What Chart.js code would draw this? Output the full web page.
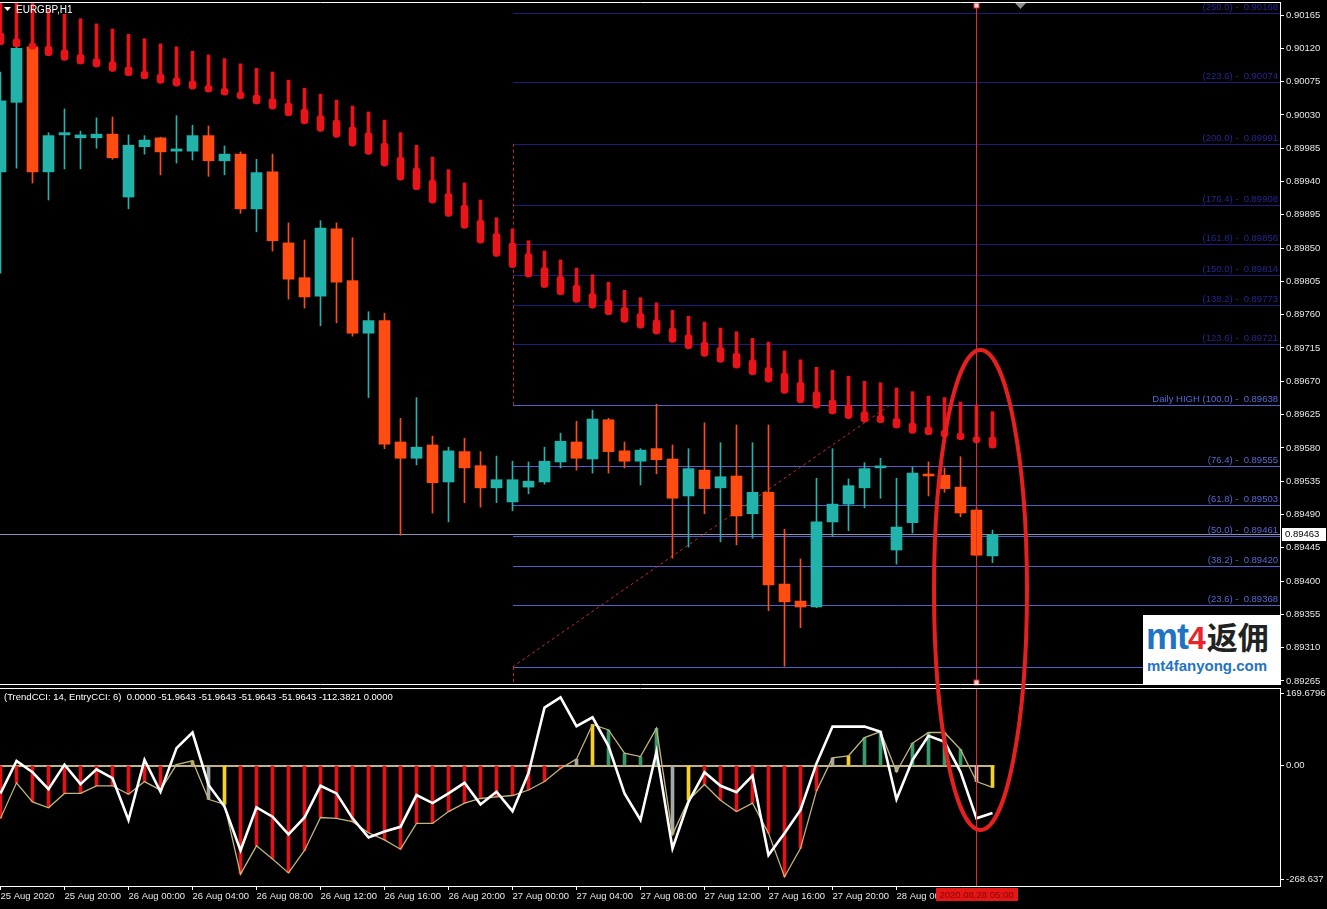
<!DOCTYPE html>
<html><head><meta charset="utf-8">
<script src="https://cdn.jsdelivr.net/npm/chart.js@4.4.0/dist/chart.umd.min.js"></script>
<style>
html,body{margin:0;padding:0;background:#000;overflow:hidden;}
#wrap{position:relative;width:1327px;height:909px;background:#000;}
#c1{position:absolute;left:0;top:0;}
#c2{position:absolute;left:0;top:686px;}
#ov{position:absolute;left:0;top:0;pointer-events:none;}
#wm{position:absolute;left:1143px;top:615px;width:137px;height:70px;background:#fff;overflow:hidden;}
#wm .l1{position:absolute;left:3px;top:-2px;white-space:nowrap;line-height:40px;}
#wm .mt{font:bold 36px 'Liberation Sans',sans-serif;color:#1f74c6;letter-spacing:-1px;}
#wm .four{font:bold 32px 'Liberation Sans',sans-serif;color:#e8262a;}
#wm .cn{font:bold 31px 'Noto Sans CJK SC',sans-serif;color:#222;margin-left:1px;}
#wm .l2{position:absolute;left:4px;top:42px;font:bold 15px 'Liberation Sans',sans-serif;color:#1f74c6;white-space:nowrap;}
</style></head>
<body>
<div id="wrap">
<canvas id="c1" width="1327" height="687"></canvas>
<canvas id="c2" width="1327" height="223"></canvas>
<div id="wm"><div class="l1"><span class="mt">mt</span><span class="four">4</span><span class="cn">返佣</span></div><div class="l2">mt4fanyong.com</div></div>
<canvas id="ov" width="1327" height="909"></canvas>
</div>
<script>
// ---------- DATA ----------
const symbolTitle = 'EURGBP,H1';
const opens  = [0.89953,0.90047,0.90122,0.89953,0.90003,0.89999,0.89999,0.90004,0.89919,0.89987,0.89999,0.89981,0.89981,0.90002,0.89968,0.89977,0.89903,0.89953,0.89857,0.89810,0.89785,0.89876,0.89806,0.89735,0.89752,0.89588,0.89566,0.89584,0.89534,0.89575,0.89556,0.89526,0.89507,0.89527,0.89534,0.89561,0.89588,0.89565,0.89618,0.89576,0.89562,0.89579,0.89565,0.89515,0.89550,0.89526,0.89542,0.89491,0.89520,0.89396,0.89373,0.89365,0.89480,0.89504,0.89526,0.89553,0.89442,0.89479,0.89543,0.89543,0.89527,0.89496,0.89434];
const highs  = [0.90088,0.90124,0.90124,0.90006,0.90038,0.90008,0.90026,0.90027,0.90003,0.90002,0.90000,0.90029,0.90016,0.90015,0.89988,0.89980,0.89970,0.89977,0.89884,0.89861,0.89887,0.89884,0.89864,0.89764,0.89762,0.89620,0.89648,0.89596,0.89581,0.89593,0.89575,0.89569,0.89562,0.89561,0.89581,0.89600,0.89616,0.89631,0.89620,0.89588,0.89579,0.89639,0.89584,0.89579,0.89614,0.89587,0.89611,0.89587,0.89611,0.89470,0.89430,0.89539,0.89579,0.89538,0.89560,0.89566,0.89539,0.89554,0.89561,0.89553,0.89568,0.89499,0.89469];
const lows   = [0.89816,0.89958,0.89938,0.89915,0.89957,0.89957,0.89985,0.89970,0.89903,0.89977,0.89949,0.89965,0.89969,0.89947,0.89949,0.89897,0.89872,0.89846,0.89781,0.89769,0.89745,0.89749,0.89731,0.89648,0.89579,0.89462,0.89557,0.89492,0.89480,0.89506,0.89500,0.89506,0.89495,0.89518,0.89531,0.89553,0.89550,0.89546,0.89546,0.89553,0.89530,0.89545,0.89431,0.89446,0.89491,0.89453,0.89449,0.89458,0.89360,0.89285,0.89337,0.89364,0.89460,0.89468,0.89499,0.89512,0.89423,0.89465,0.89515,0.89520,0.89487,0.89434,0.89425];
const closes = [0.90049,0.90120,0.89953,0.90002,0.90006,0.90003,0.90004,0.89972,0.89989,0.89996,0.89980,0.89984,0.90002,0.89968,0.89977,0.89903,0.89952,0.89860,0.89808,0.89784,0.89877,0.89804,0.89735,0.89752,0.89585,0.89566,0.89581,0.89533,0.89576,0.89553,0.89526,0.89537,0.89537,0.89535,0.89562,0.89589,0.89566,0.89619,0.89575,0.89562,0.89577,0.89564,0.89512,0.89552,0.89525,0.89541,0.89488,0.89520,0.89395,0.89372,0.89365,0.89480,0.89504,0.89529,0.89552,0.89554,0.89473,0.89546,0.89542,0.89525,0.89492,0.89435,0.89463];

// red channel indicator (top of thin line, top of thick part, bottom)
const redTop = [0.90192,0.90192,0.90192,0.90172,0.90166,0.90160,0.90153,0.90146,0.90139,0.90133,0.90126,0.90122,0.90116,0.90111,0.90106,0.90099,0.90093,0.90088,0.90077,0.90066,0.90058,0.90050,0.90042,0.90034,0.90023,0.90006,0.89989,0.89973,0.89956,0.89938,0.89915,0.89891,0.89876,0.89860,0.89846,0.89834,0.89823,0.89814,0.89804,0.89793,0.89783,0.89776,0.89766,0.89758,0.89750,0.89742,0.89737,0.89728,0.89723,0.89711,0.89699,0.89689,0.89685,0.89677,0.89670,0.89668,0.89661,0.89656,0.89650,0.89648,0.89642,0.89638,0.89629];
const redMid = [0.90141,0.90133,0.90127,0.90123,0.90118,0.90112,0.90106,0.90102,0.90095,0.90089,0.90085,0.90080,0.90076,0.90070,0.90066,0.90061,0.90057,0.90052,0.90046,0.90038,0.90029,0.90023,0.90014,0.90006,0.89992,0.89973,0.89958,0.89942,0.89924,0.89908,0.89888,0.89870,0.89857,0.89843,0.89824,0.89812,0.89800,0.89789,0.89780,0.89770,0.89762,0.89753,0.89742,0.89733,0.89723,0.89716,0.89708,0.89699,0.89689,0.89681,0.89669,0.89656,0.89645,0.89638,0.89629,0.89624,0.89620,0.89614,0.89608,0.89604,0.89600,0.89595,0.89595];
const redBot = [0.90125,0.90122,0.90119,0.90110,0.90104,0.90099,0.90095,0.90089,0.90083,0.90079,0.90073,0.90069,0.90065,0.90061,0.90057,0.90052,0.90045,0.90038,0.90029,0.90018,0.90008,0.90000,0.89988,0.89977,0.89961,0.89942,0.89929,0.89911,0.89893,0.89877,0.89857,0.89839,0.89824,0.89811,0.89797,0.89787,0.89777,0.89769,0.89760,0.89750,0.89742,0.89734,0.89723,0.89714,0.89704,0.89696,0.89688,0.89679,0.89669,0.89654,0.89641,0.89634,0.89626,0.89620,0.89615,0.89614,0.89607,0.89600,0.89598,0.89595,0.89591,0.89587,0.89580];

const priceTicks = [0.90165,0.90120,0.90075,0.90030,0.89985,0.89940,0.89895,0.89850,0.89805,0.89760,0.89715,0.89670,0.89625,0.89580,0.89535,0.89490,0.89445,0.89400,0.89355,0.89310,0.89265];
const bidPrice = 0.89463;

const fibLevels = [0, 23.6, 38.2, 50.0, 61.8, 76.4, 100.0, 123.6, 138.2, 150.0, 161.8, 176.4, 200.0, 223.6, 250.0];
const fibPrices = [0.89284, 0.89368, 0.89420, 0.89461, 0.89503, 0.89555, 0.89638, 0.89721, 0.89773, 0.89814, 0.89856, 0.89908, 0.89991, 0.90074, 0.90168];
const fibStartBar = 32, fibHighBar = 55.6;

const trendCCI = [-125,-41,-86,-100,-66,-66,-48,-48,-68,-38,-58,2,11,-80,-92,-257,-190,-221,-254,-201,-123,-125,-133,-159,-176,-198,-137,-137,-109,-89,-78,-74,-71,-58,-38,-7,15,97,84,29,21,88,-163,-82,-45,-82,-109,-89,-160,-263,-196,-60,18,23,66,80,-15,53,78,78,38,-38,-51.9643];
const entryCCI = [-66,11,-16,-56,2,-44,-9,-30,-129,13,-62,41,78,-46,-97,-201,-99,-121,-163,-123,-48,-66,-125,-170,-156,-145,-70,-89,-66,-41,-92,-62,-108,-18,137,161,93,114,46,-66,-129,33,-196,-86,-16,-48,-63,-24,-212,-160,-105,5,92,92,92,80,-80,13,70,56,-15,-125,-112.3821];
// histogram state per bar: r = down, g = up, y = turn, a = neutral, k = weak, p = faded
const histState = [
  'r','r','r','r','r','r','r','r','r','r','r',          // 0-10
  'a','k','a','y',                                      // 11-14
  'r','r','r','r','r','r','r','r','r','r','r','r','r','r','r','r','r','r','r','r','r', // 15-35
  'a','y','g','g','g','g',                              // 36-41
  'a','y','r','r','r','r','r','r','r','r',              // 42-51
  'a','y','g','g','a','g','g','g','g','p','y'           // 52-62
];
const cciBuffers = [0.0000,-51.9643,-51.9643,-51.9643,-51.9643,-112.3821,0.0000];
const cciTicks = [169.6796, 0, -268.637];
const cciTickLabels = ['169.6796','0.00','-268.637'];

const xTickPos = [0,4,8,12,16,20,24,28,32,36,40,44,48,52,56];
const xTickLabels = ['25 Aug 2020','25 Aug 20:00','26 Aug 00:00','26 Aug 04:00','26 Aug 08:00','26 Aug 12:00','26 Aug 16:00','26 Aug 20:00','27 Aug 00:00','27 Aug 04:00','27 Aug 08:00','27 Aug 12:00','27 Aug 16:00','27 Aug 20:00','28 Aug 00:00'];
const cursorBar = 61, cursorLabel = '2020.08.28 05:00';

// ---------- STYLE ----------
const FONT = "'Liberation Sans', Arial, sans-serif";
const BULL = '#22b3aa', BEAR = '#ff4d12', REDIND = '#e8141a';
const histColorMap = {r:'#e01414', g:'#3b9a6c', y:'#f7d21a', a:'#a8a8a8', k:'#b3a566', p:'#d9b3b3'};
const XMIN = -1/32, XMAX = 80 - 1/32;
Chart.defaults.animation = false;
Chart.defaults.font.family = FONT;

const n = opens.length;
const idx = opens.map((_, i) => i);
const candleCol = idx.map(i => closes[i] >= opens[i] ? BULL : BEAR);

function hline(ctx, x1, y, x2){ ctx.beginPath(); ctx.moveTo(x1, y); ctx.lineTo(x2, y); ctx.stroke(); }
function vline(ctx, x, y1, y2){ ctx.beginPath(); ctx.moveTo(x, y1); ctx.lineTo(x, y2); ctx.stroke(); }
function noPad(s){ s.paddingTop = 0; s.paddingBottom = 0; s.paddingLeft = 0; s.paddingRight = 0; }

const mainPlugin = {
  id: 'mainPlugin',
  beforeDatasetsDraw(chart){
    const {ctx, chartArea:a, scales:{x, y}} = chart;
    ctx.save();
    ctx.beginPath(); ctx.rect(a.left, a.top, a.right - a.left, a.bottom - a.top); ctx.clip();
    ctx.lineWidth = 1;
    const by = Math.round(y.getPixelForValue(bidPrice)) + 0.5;
    ctx.strokeStyle = '#8991b6';
    hline(ctx, a.left, by, a.right);
    const fx = Math.round(x.getPixelForValue(fibStartBar));
    ctx.font = '9.5px ' + FONT;
    ctx.textAlign = 'right'; ctx.textBaseline = 'bottom';
    fibLevels.forEach((lv, i) => {
      const py = Math.round(y.getPixelForValue(fibPrices[i])) + 0.5;
      const upper = lv > 100;
      ctx.strokeStyle = upper ? '#1d1d80' : '#5160c8';
      hline(ctx, fx, py, a.right);
      ctx.fillStyle = upper ? '#262692' : '#5868d2';
      const txt = (lv === 100 ? 'Daily HIGH ' : '') + '(' + lv.toFixed(1) + ') -  ' + fibPrices[i].toFixed(5);
      ctx.fillText(txt, a.right - 2, py - 1);
    });
    ctx.strokeStyle = '#c42a2a';
    ctx.setLineDash([3, 3]);
    const vx = fx + 0.5;
    vline(ctx, vx, y.getPixelForValue(fibPrices[12]), y.getPixelForValue(fibPrices[6]));
    vline(ctx, vx, y.getPixelForValue(fibPrices[0]), a.bottom);
    ctx.beginPath();
    ctx.moveTo(x.getPixelForValue(fibStartBar), y.getPixelForValue(fibPrices[0]));
    ctx.lineTo(x.getPixelForValue(fibHighBar), y.getPixelForValue(fibPrices[6]));
    ctx.stroke();
    ctx.setLineDash([]);
    ctx.restore();
  },
  afterDatasetsDraw(chart){
    const {ctx, chartArea:a, scales:{x}} = chart;
    ctx.save();
    const cx = Math.round(x.getPixelForValue(cursorBar) - 0.5) + 0.5;
    ctx.strokeStyle = '#e52a2a'; ctx.lineWidth = 1;
    vline(ctx, cx, a.top, a.bottom);
    ctx.fillStyle = '#ffd8d8'; ctx.strokeStyle = '#e52a2a';
    ctx.fillRect(cx - 2.5, a.top + 1, 5, 5); ctx.strokeRect(cx - 2.5, a.top + 1, 5, 5);
    ctx.fillRect(cx - 2.5, a.bottom - 5, 5, 5); ctx.strokeRect(cx - 2.5, a.bottom - 5, 5, 5);
    ctx.restore();
  },
  afterDraw(chart){
    const {ctx, chartArea:a, scales:{y}} = chart;
    ctx.save();
    ctx.strokeStyle = '#ffffff'; ctx.lineWidth = 1;
    hline(ctx, 0, a.top + 0.5, a.right + 1);
    hline(ctx, 0, a.bottom - 0.5, a.right + 1);
    vline(ctx, a.right + 0.5, a.top, a.bottom);
    ctx.fillStyle = '#8c8c8c';
    ctx.beginPath(); ctx.moveTo(1015, a.top + 1); ctx.lineTo(1026, a.top + 1); ctx.lineTo(1020.5, a.top + 7); ctx.closePath(); ctx.fill();
    ctx.fillStyle = '#ffffff';
    ctx.beginPath(); ctx.moveTo(4, 7); ctx.lineTo(11, 7); ctx.lineTo(7.5, 11); ctx.closePath(); ctx.fill();
    ctx.font = '10px ' + FONT; ctx.textAlign = 'left'; ctx.textBaseline = 'middle';
    ctx.fillText(symbolTitle, 16, 10);
    const by = Math.round(y.getPixelForValue(bidPrice));
    ctx.fillStyle = '#ffffff';
    ctx.fillRect(a.right + 2, by - 6, 44, 13);
    ctx.fillStyle = '#000000'; ctx.font = '9.5px ' + FONT;
    ctx.fillText(bidPrice.toFixed(5), a.right + 5, by + 0.5);
    ctx.restore();
  }
};

new Chart(document.getElementById('c1'), {
  type: 'bar',
  data: {
    datasets: [
      { label:'redThick', order:0, grouped:false, barThickness:7, borderRadius:3, borderSkipped:false,
        data: idx.map(i => ({x:i, y:[redBot[i], redMid[i]]})), backgroundColor: REDIND },
      { label:'redThin', order:1, grouped:false, barThickness:3,
        data: idx.map(i => ({x:i, y:[redBot[i], redTop[i]]})), backgroundColor: REDIND },
      { label:'body', order:2, grouped:false, barThickness:11, minBarLength:2,
        data: idx.map(i => ({x:i, y:[opens[i], closes[i]]})), backgroundColor: candleCol },
      { label:'wick', order:3, grouped:false, barThickness:1,
        data: idx.map(i => ({x:i, y:[lows[i], highs[i]]})), backgroundColor: candleCol }
    ]
  },
  options: {
    responsive:false, maintainAspectRatio:false,
    layout:{padding:{left:0, right:0, top:2, bottom:2}},
    plugins:{legend:{display:false}, tooltip:{enabled:false}},
    scales:{
      x:{type:'linear', min:XMIN, max:XMAX, offset:false, display:false, grid:{offset:false}},
      y:{type:'linear', position:'right', min:0.8925959, max:0.9018257,
         afterFit(s){ s.width = 47; noPad(s); },
         afterBuildTicks(s){ s.ticks = priceTicks.map(v => ({value:v})); },
         ticks:{color:'#e6e6e6', font:{size:9.5, family:FONT}, padding:2, autoSkip:false,
                callback:(v) => Number(v).toFixed(5)},
         grid:{drawOnChartArea:false, drawTicks:true, tickLength:4, color:'#ffffff'},
         border:{display:false}}
    }
  },
  plugins:[mainPlugin]
});

const cciPlugin = {
  id:'cciPlugin',
  beforeDatasetsDraw(chart){
    const {ctx, scales:{x, y}} = chart;
    ctx.save();
    ctx.strokeStyle = '#c2b47c'; ctx.lineWidth = 2;
    const zy = Math.round(y.getPixelForValue(0));
    hline(ctx, x.getPixelForValue(0) - 1, zy, x.getPixelForValue(n - 1) + 2);
    ctx.restore();
  },
  afterDatasetsDraw(chart){
    const {ctx, chartArea:a, scales:{x}} = chart;
    ctx.save();
    const cx = Math.round(x.getPixelForValue(cursorBar) - 0.5) + 0.5;
    ctx.strokeStyle = '#e52a2a'; ctx.lineWidth = 1;
    vline(ctx, cx, a.top, a.bottom);
    ctx.restore();
  },
  afterDraw(chart){
    const {ctx, chartArea:a, scales:{x}} = chart;
    ctx.save();
    ctx.strokeStyle = '#ffffff'; ctx.lineWidth = 1;
    hline(ctx, 0, a.top + 0.5, a.right + 1);
    hline(ctx, 0, a.bottom + 0.5, a.right + 1);
    vline(ctx, a.right + 0.5, a.top, a.bottom + 1);
    ctx.fillStyle = '#ffffff'; ctx.font = '9.5px ' + FONT; ctx.textAlign = 'left'; ctx.textBaseline = 'middle';
    const head = '(TrendCCI: 14, EntryCCI: 6)  ' + cciBuffers.map(v => v.toFixed(4)).join(' ');
    ctx.fillText(head, 4, a.top + 9);
    const cx = x.getPixelForValue(cursorBar);
    const w = ctx.measureText(cursorLabel).width + 8;
    ctx.fillStyle = '#e51616';
    ctx.fillRect(Math.round(cx - w / 2), a.bottom + 2, Math.round(w), 13);
    ctx.fillStyle = '#8a0000'; ctx.textAlign = 'center';
    ctx.fillText(cursorLabel, cx, a.bottom + 9);
    ctx.restore();
  }
};

new Chart(document.getElementById('c2'), {
  type:'bar',
  data:{
    datasets:[
      { type:'line', label:'EntryCCI', order:0, data: idx.map(i => ({x:i, y:entryCCI[i]})),
        borderColor:'#ffffff', borderWidth:2.6, pointRadius:0, tension:0, fill:false },
      { type:'line', label:'TrendCCI', order:1, data: idx.map(i => ({x:i, y:trendCCI[i]})),
        borderColor:'#c2b47c', borderWidth:1.3, pointRadius:0, tension:0, fill:false },
      { type:'bar', label:'hist', order:2, grouped:false, barThickness:3,
        data: idx.map(i => ({x:i, y:trendCCI[i]})),
        backgroundColor: idx.map(i => histColorMap[histState[i]]) }
    ]
  },
  options:{
    responsive:false, maintainAspectRatio:false,
    layout:{padding:{left:0, right:0, top:2, bottom:0}},
    plugins:{legend:{display:false}, tooltip:{enabled:false}},
    scales:{
      x:{type:'linear', min:XMIN, max:XMAX, offset:false, position:'bottom',
         afterFit(s){ s.height = 23; noPad(s); },
         afterBuildTicks(s){ s.ticks = xTickPos.map(v => ({value:v})); },
         ticks:{color:'#e6e6e6', font:{size:9.5, family:FONT}, align:'start', padding:1, autoSkip:false, maxRotation:0, minRotation:0,
                callback:(v, i) => xTickLabels[i]},
         grid:{offset:false, drawOnChartArea:false, drawTicks:true, tickLength:4, color:'#ffffff'},
         border:{display:false}},
      y:{type:'linear', position:'right', min:-285.0, max:183.3,
         afterFit(s){ s.width = 47; noPad(s); },
         afterBuildTicks(s){ s.ticks = cciTicks.map(v => ({value:v})); },
         ticks:{color:'#e6e6e6', font:{size:9.5, family:FONT}, padding:2, autoSkip:false,
                callback:(v, i) => cciTickLabels[i]},
         grid:{drawOnChartArea:false, drawTicks:true, tickLength:4, color:'#ffffff'},
         border:{display:false}}
    }
  },
  plugins:[cciPlugin]
});

(function(){
  const c = document.getElementById('ov').getContext('2d');
  c.strokeStyle = '#e5201f'; c.lineWidth = 4;
  c.beginPath(); c.ellipse(980.5, 590, 46.5, 240, 0, 0, Math.PI * 2); c.stroke();
})();
</script>
</body></html>
